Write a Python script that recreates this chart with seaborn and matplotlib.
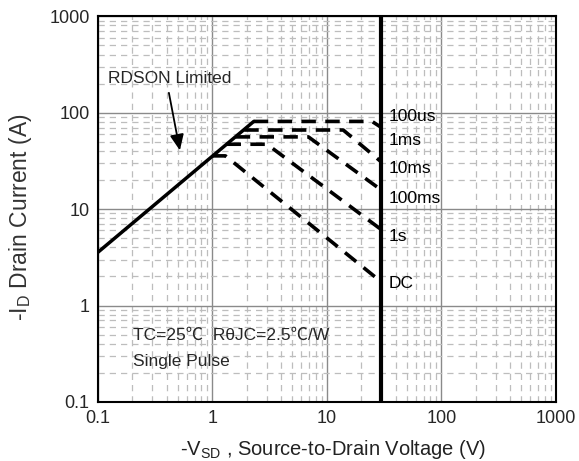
import matplotlib
matplotlib.use("Agg")
import matplotlib.pyplot as plt
import seaborn as sns
import pandas as pd

# RDS(on) limit line
rdson_v = [0.1, 2.3]
rdson_i = [3.56, 81.0]

# Pulse-width limited curves (V, I breakpoints)
pulse_names = ["100us", "1ms", "10ms", "100ms", "1s"]
pulse_v = [
    [2.3, 24.8, 30.0],
    [1.9, 13.9, 30.0],
    [1.6, 6.9, 30.0],
    [1.33, 3.0, 30.0],
    [1.0, 1.3, 30.0],
]
pulse_i = [
    [81.0, 81.0, 70.0],
    [66.0, 66.0, 30.7],
    [56.0, 56.0, 15.7],
    [47.0, 47.0, 6.1],
    [35.6, 35.6, 1.75],
]

# Maximum drain-source voltage
vds_max = 30.0

# Curve labels on the right side
label_texts = ["100us", "1ms", "10ms", "100ms", "1s", "DC"]
label_i = [90.5, 51.9, 26.4, 12.9, 5.25, 1.7]
label_v = 34.4

x_ticks = [0.1, 1, 10, 100, 1000]
x_tick_labels = ["0.1", "1", "10", "100", "1000"]
y_ticks = [0.1, 1, 10, 100, 1000]
y_tick_labels = ["0.1", "1", "10", "100", "1000"]

sns.set_theme(style="white")
plt.rcParams["font.family"] = ["Liberation Sans", "Noto Sans CJK SC", "DejaVu Sans"]
plt.rcParams["mathtext.fontset"] = "custom"
plt.rcParams["mathtext.rm"] = "Liberation Sans"
plt.rcParams["mathtext.it"] = "Liberation Sans"

fig = plt.figure(figsize=(5.79, 4.61), dpi=100)
ax = fig.add_axes([0.169, 0.128, 0.791, 0.837])
ax.set_xscale("log")
ax.set_yscale("log")
ax.set_xlim(0.1, 1000)
ax.set_ylim(0.1, 1000)

ax.grid(True, which="major", color="#8a8a8a", linestyle="-", linewidth=1.0)
ax.grid(True, which="minor", color="#bdbdbd", linestyle=(0, (5, 4)), linewidth=0.9)
ax.set_axisbelow(True)

rd = pd.DataFrame({"V": rdson_v, "I": rdson_i})
sns.lineplot(data=rd, x="V", y="I", ax=ax, color="black", linewidth=2.5,
             estimator=None, sort=False)

for name, vv, ii in zip(pulse_names, pulse_v, pulse_i):
    df = pd.DataFrame({"V": vv, "I": ii})
    sns.lineplot(data=df, x="V", y="I", ax=ax, color="black", linewidth=2.6,
                 estimator=None, sort=False, dashes=False,
                 linestyle=(0, (4, 2.6)))

ax.axvline(vds_max, color="black", linewidth=3)

txt_family = ["Liberation Sans", "Noto Sans CJK SC", "DejaVu Sans"]
for t, yi in zip(label_texts, label_i):
    ax.text(label_v, yi, t, fontsize=12.5, va="center", ha="left", color="black",
            family=txt_family)

ax.text(0.1236, 228, "RDSON Limited", fontsize=12.5, va="center", ha="left",
        family=txt_family)
ax.annotate("", xy=(0.526, 38), xytext=(0.413, 171),
            arrowprops=dict(arrowstyle="-|>,head_length=0.8,head_width=0.35",
                            color="black", lw=1.3))
ax.text(0.204, 0.489, "TC=25\u2103  R\u03b8JC=2.5\u2103/W", fontsize=12.5,
        va="center", ha="left", family=txt_family)
ax.text(0.204, 0.263, "Single Pulse", fontsize=12.5, va="center", ha="left",
        family=txt_family)

ax.set_xticks(x_ticks)
ax.set_xticklabels(x_tick_labels)
ax.set_yticks(y_ticks)
ax.set_yticklabels(y_tick_labels)
ax.tick_params(axis="both", which="both", length=0, labelsize=13, pad=6)

ax.set_xlabel("-V$_{\\mathrm{SD}}$ , Source-to-Drain Voltage (V)", fontsize=14.5,
              color="#222222")
ax.set_ylabel("-I$_{\\mathrm{D}}$ Drain Current (A)", fontsize=16.5,
              color="#333333")
ax.xaxis.set_label_coords(0.513, -0.094)
ax.yaxis.set_label_coords(-0.14, 0.478)

for s in ax.spines.values():
    s.set_visible(True)
    s.set_color("black")
    s.set_linewidth(1.5)

fig.savefig("out.png", dpi=100)
